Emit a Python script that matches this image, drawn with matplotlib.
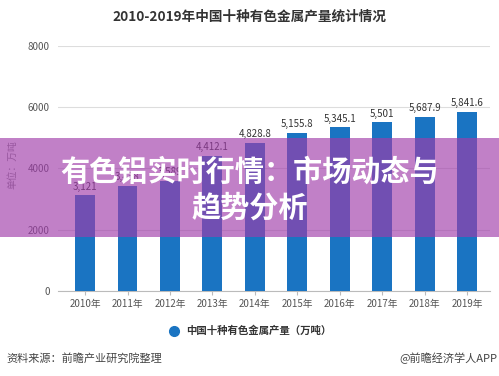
import numpy as np
import matplotlib.pyplot as plt
from matplotlib.patches import Rectangle

plt.rcParams['font.family'] = ['Noto Sans CJK SC', 'DejaVu Sans']

years = ['2010年', '2011年', '2012年', '2013年', '2014年',
         '2015年', '2016年', '2017年', '2018年', '2019年']
output = [3121, 3438, 3589, 4412.1, 4828.8, 5155.8, 5345.1, 5501, 5687.9, 5841.6]
labels = ['3,121', '3,438', '3,589', '4,412.1', '4,828.8',
          '5,155.8', '5,345.1', '5,501', '5,687.9', '5,841.6']
yticks = [0, 2000, 4000, 6000, 8000]

bar_color = '#1a74c2'

fig = plt.figure(figsize=(4.99, 3.76), dpi=100)
ax = fig.add_axes([0.116, 0.226, 0.866, 0.652])

x = np.arange(len(years))
ax.bar(x, output, width=0.47, color=bar_color, zorder=3)
for xi, v, lab in zip(x, output, labels):
    ax.text(xi, v + 120, lab, ha='center', va='bottom', fontsize=7,
            color='#333333', zorder=4)

ax.set_xlim(-0.64, 9.54)
ax.set_ylim(0, 8000)
ax.set_yticks(yticks)
ax.set_yticklabels([str(t) for t in yticks], fontsize=7, color='#555555')
ax.set_xticks(x)
ax.set_xticklabels(years, fontsize=7, color='#555555')
ax.grid(axis='y', color='#dddddd', linewidth=0.8, zorder=0)
for s in ['top', 'right', 'left']:
    ax.spines[s].set_visible(False)
ax.spines['bottom'].set_color('#bbbbbb')
ax.tick_params(axis='y', length=0, pad=6)
ax.tick_params(axis='x', length=3, color='#bbbbbb', pad=3)
ax.set_ylabel('单位：万吨', fontsize=7, color='#888888')
ax.yaxis.set_label_coords(-0.093, 0.514)

fig.text(0.5, 0.955, '2010-2019年中国十种有色金属产量统计情况', ha='center',
         va='center', fontsize=9.8, fontweight='bold', color='#333333')

# legend
fig.add_artist(plt.Line2D([0.349], [0.12], marker='o', markersize=7,
                          color=bar_color, transform=fig.transFigure))
fig.text(0.372, 0.12, '中国十种有色金属产量（万吨）', ha='left', va='center',
         fontsize=7.5, fontweight='bold', color='#333333')

# footer
fig.text(0.012, 0.048, '资料来源：前瞻产业研究院整理', ha='left', va='center',
         fontsize=8, color='#444444')
fig.text(0.996, 0.048, '@前瞻经济学人APP', ha='right', va='center',
         fontsize=8, color='#444444')

# overlay banner
fig.add_artist(Rectangle((0, 0.37), 1, 0.263, transform=fig.transFigure,
                         facecolor='#a03caa', alpha=0.65, edgecolor='none',
                         zorder=10))
fig.text(0.5, 0.543, '有色铝实时行情：市场动态与', ha='center', va='center',
         fontsize=21, fontweight='bold', color='white', zorder=11)
fig.text(0.5, 0.447, '趋势分析', ha='center', va='center',
         fontsize=21, fontweight='bold', color='white', zorder=11)

fig.savefig('out.png', dpi=100)
